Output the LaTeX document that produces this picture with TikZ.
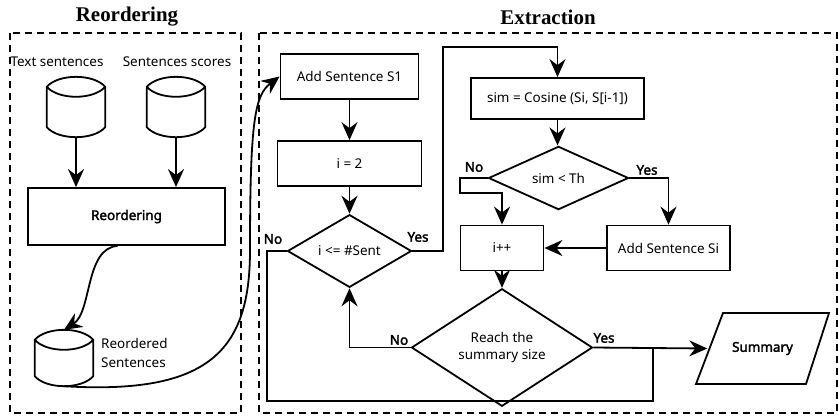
\documentclass[tikz,border=0pt]{standalone}
\usepackage{fontspec}
\setmainfont{Noto Sans}[AutoFakeBold=2.2]
\newfontfamily\headfont{Liberation Serif}
\usetikzlibrary{arrows.meta,shapes.geometric,calc}

\tikzset{
  lw/.style={line width=1.8bp},
  arr/.style={lw,-{Stealth[length=18bp,width=16bp,inset=6bp]}},
  conn/.style={lw},
  procbox/.style={draw,lw,rectangle,inner sep=0pt,font=\fontsize{13.5}{16}\selectfont},
  decbox/.style={draw,lw,diamond,inner sep=0pt,align=center,font=\fontsize{13.5}{17}\selectfont},
  dbnode/.style={rectangle,inner sep=0pt},
  lbl/.style={font=\fontsize{13.5}{16}\selectfont\bfseries,inner sep=0pt},
  txt/.style={font=\fontsize{13.5}{19}\selectfont,inner sep=0pt},
  panel/.style={line width=1.5bp,dash pattern=on 7bp off 5bp},
  heading/.style={font=\headfont\fontsize{21}{24}\selectfont\bfseries,inner sep=0pt}
}

% cylinder with a lens-shaped top, drawn over a named placeholder node
\newcommand\dbdraw[1]{%
  \draw[lw,fill=white] let \p1=(#1.north west), \p2=(#1.south east), \n1={\x2-\x1} in
    (\x1,{\y1-10bp}) .. controls ({\x1+0.2*\n1},{\y1+3.3bp}) and ({\x2-0.2*\n1},{\y1+3.3bp}) .. (\x2,{\y1-10bp})
    -- (\x2,{\y2+10bp}) .. controls ({\x2-0.2*\n1},{\y2-3.3bp}) and ({\x1+0.2*\n1},{\y2-3.3bp}) .. (\x1,{\y2+10bp}) -- cycle
    (\x1,{\y1-10bp}) .. controls ({\x1+0.2*\n1},{\y1-23.3bp}) and ({\x2-0.2*\n1},{\y1-23.3bp}) .. (\x2,{\y1-10bp});
}

\begin{document}
\begin{tikzpicture}[x=1bp,y=-1bp]
\useasboundingbox (0,0) rectangle (838,415);

% panels and headings
\draw[panel] (10,33) rectangle (241,413);
\draw[panel] (259,33) rectangle (837,413);
\node[heading] (hReo) at (127,17) {Reordering};
\node[heading] (hExt) at (548,17) {Extraction};

% ---- reordering stage ----
\node[txt] (lTxt) at (57,62) {Text sentences};
\node[txt] (lSco) at (177,62) {Sentences scores};
\node[dbnode,minimum width=58bp,minimum height=60bp] (cTxt) at (76,107) {};
\node[dbnode,minimum width=58bp,minimum height=60bp] (cSco) at (176,107) {};
\dbdraw{cTxt}
\dbdraw{cSco}

\node[procbox,minimum width=197bp,minimum height=57bp,font=\fontsize{13.5}{16}\selectfont\bfseries] (reord) at (126.5,216.5) {Reordering};

\node[dbnode,minimum width=58bp,minimum height=56bp] (cRe) at (64,358) {};
\dbdraw{cRe}
\node[txt,anchor=west,align=left] (lRe) at (101,352.5) {Reordered\\Sentences};

\draw[arr] (cTxt.south) -- (cTxt.south |- reord.north);
\draw[arr] (cSco.south) -- (cSco.south |- reord.north);
\draw[arr] ([xshift=-9bp]reord.south) .. controls (85,248) and (92,312) .. (cRe.north);

% ---- extraction stage ----
\node[procbox,minimum width=138bp,minimum height=45bp] (s1) at (349.5,76.5) {Add Sentence S1};
\node[procbox,minimum width=144bp,minimum height=45bp] (i2) at (349.5,163.5) {i = 2};
\node[decbox,minimum width=124bp,minimum height=62bp] (dSent) at (349.5,251) {i <= \#Sent};
\node[procbox,minimum width=173bp,minimum height=41bp] (sim) at (557.5,98.5) {sim = Cosine (Si, S[i-1])};
\node[decbox,minimum width=140bp,minimum height=46bp] (dTh) at (558.5,178) {sim < Th};
\node[procbox,minimum width=83bp,minimum height=45bp] (inc) at (502,248) {i++};
\node[procbox,minimum width=123bp,minimum height=45bp] (addSi) at (668.5,248) {Add Sentence Si};
\node[decbox,minimum width=181bp,minimum height=85bp] (dSize) at (502,347.5) {Reach the\\summary size};
\node[dbnode,minimum width=110bp,minimum height=71bp,font=\fontsize{13.5}{16}\selectfont\bfseries] (summ) at (762.5,348.5) {Summary};
\draw[lw] ([shift={(-66.5,35.5)}]summ.center) -- ([shift={(-39.5,-35.5)}]summ.center)
  -- ([shift={(66.5,-35.5)}]summ.center) -- ([shift={(43.5,35.5)}]summ.center) -- cycle;

\coordinate (upA) at (443,47);
\coordinate (thA) at (460,193);
\coordinate (loA) at (267,401);
\coordinate (jn) at (653,347.5);

\draw[arr] (cRe.south) .. controls (210,395) and (250,350) .. (250,250)
  .. controls (250,120) and (255,95) .. (s1.west);
\draw[arr] (s1.south) -- (i2.north);
\draw[arr] (i2.south) -- (dSent.north);
\draw[arr] (dSent.east) -| (upA) -| (sim.north);
\draw[arr] (sim.south) -- (sim.south |- dTh.north);
\draw[arr] (dTh.west) -| (thA) -| (inc.north);
\draw[arr] (dTh.east) -| (addSi.north);
\draw[arr] (addSi.west) -- (inc.east);
\draw[arr] (inc.south) -- (dSize.north);
\draw[arr] (dSize.west) -| (dSent.south);
\draw[arr] (dSize.east) -- (summ.west);
\draw[conn] (dSent.west) -| (loA) -| (jn);

% branch labels
\node[lbl] (nSent) at (273,239) {No};
\node[lbl] (ySent) at (418,237) {Yes};
\node[lbl] (nTh) at (474,167) {No};
\node[lbl] (yTh) at (647,170) {Yes};
\node[lbl] (nSize) at (399,340) {No};
\node[lbl] (ySize) at (604,338) {Yes};
\end{tikzpicture}
\end{document}
